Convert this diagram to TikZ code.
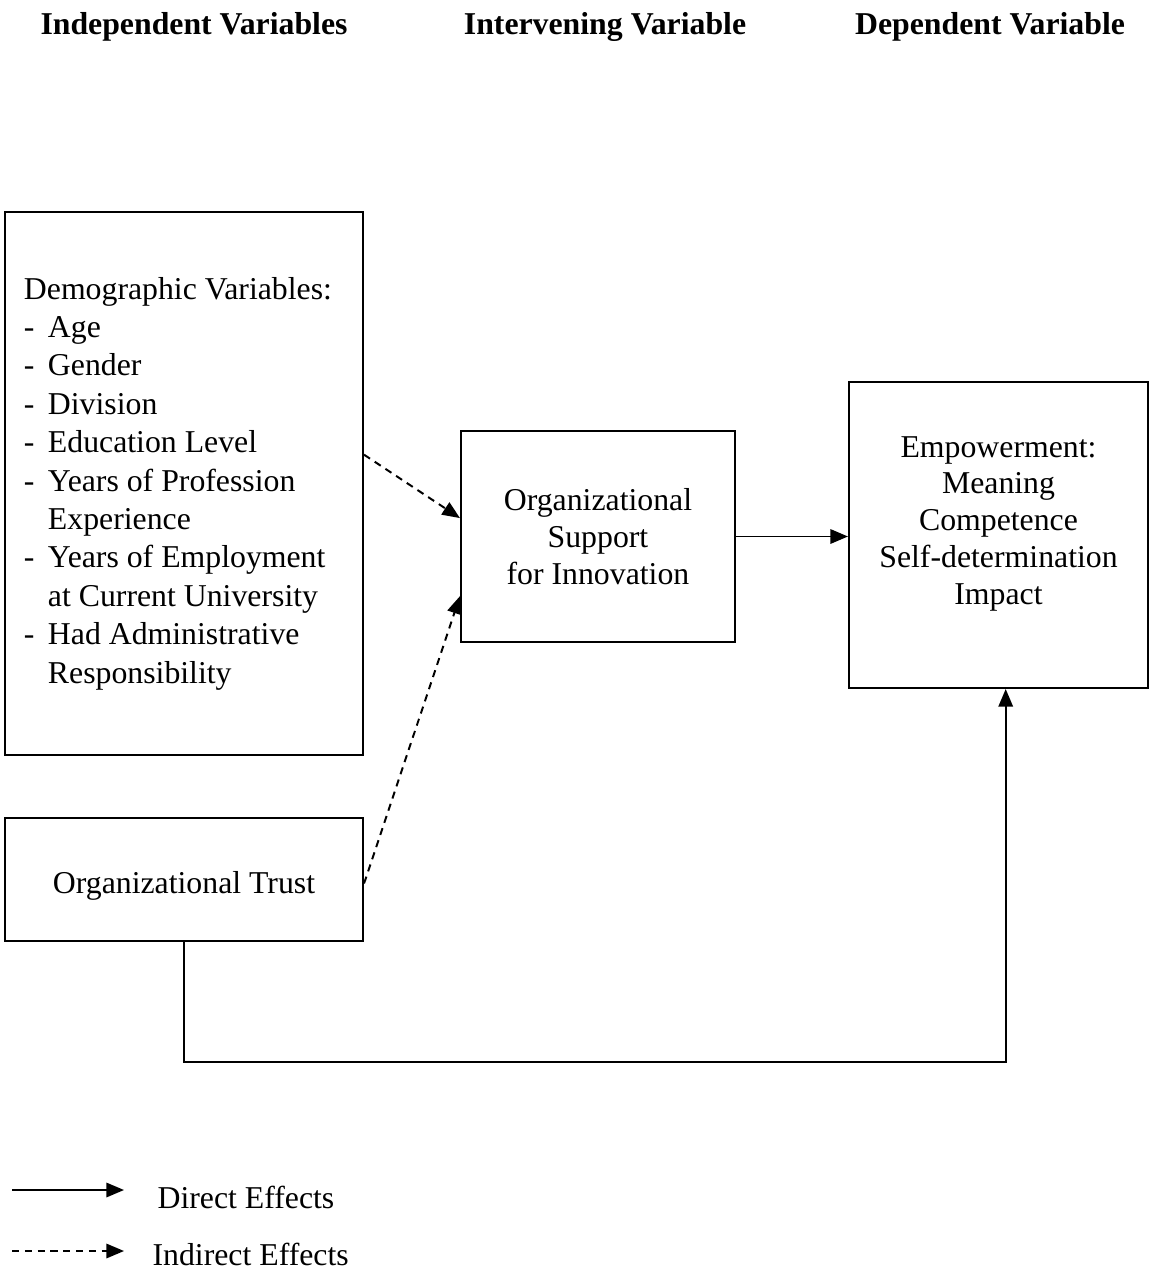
\documentclass[tikz,border=0pt]{standalone}
\usepackage{fontspec}
\setmainfont{Liberation Serif}
\usetikzlibrary{arrows.meta}

\newcommand{\itm}[1]{\makebox[0.3cm][l]{-}#1}
\newcommand{\cnt}[1]{\hspace*{0.3cm}#1}

\begin{document}
\begin{tikzpicture}[
  x=0.0125cm, y=-0.0125cm,
  font=\fontsize{11.3}{13.1}\selectfont,
  head/.style={font=\fontsize{11.3}{13.1}\selectfont\bfseries},
  box/.style={draw, line width=.7pt, align=center, inner sep=0pt},
  txt/.style={align=center, inner sep=0pt},
  listbox/.style={box, align=flush left, inner xsep=0.2375cm, text width=4cm,
                  minimum height=6.7875cm, font=\fontsize{11.3}{13.65}\selectfont},
  flow/.style={-{Triangle[length=0.22cm,width=0.18cm]}, line width=.7pt},
  direct/.style={flow},
  indirect/.style={flow, dash pattern=on 0.09cm off 0.07cm}
]
  \useasboundingbox (0,0) rectangle (1152,1279);

  % column headings
  \node[head] (hindep) at (194,27) {Independent Variables};
  \node[head] (hinterv) at (605,27) {Intervening Variable};
  \node[head] (hdep) at (990,27) {Dependent Variable};

  % boxes
  \node[listbox] (demo) at (184,483.5) {Demographic Variables:\\
    \itm{Age}\\
    \itm{Gender}\\
    \itm{Division}\\
    \itm{Education Level}\\
    \itm{Years of Profession}\\
    \cnt{Experience}\\
    \itm{Years of Employment}\\
    \cnt{at Current University}\\
    \itm{Had Administrative}\\
    \cnt{Responsibility}};
  \node[box, minimum width=4.475cm, minimum height=1.5375cm] (trust) at (184,879.5) {};
  \node[txt] (trusttxt) at ([yshift=-0.08cm]trust.center) {Organizational Trust};
  \node[box, minimum width=3.425cm, minimum height=2.6375cm] (supp) at (598,536.5)
    {Organizational\\Support\\for Innovation};
  \node[box, minimum width=3.7375cm, minimum height=3.825cm] (emp) at (998.5,535) {};
  \node[txt] (emptxt) at ([yshift=0.14cm]emp.center)
    {Empowerment:\\Meaning\\Competence\\Self-determination\\Impact};

  % effects
  \draw[indirect] ([yshift=0.36cm]demo.east) -- ([yshift=0.23cm]supp.west);
  \draw[indirect] ([yshift=-0.05cm]trust.east) -- ([yshift=-0.745cm]supp.west);
  \draw[direct] (supp.east) -- (supp.east -| emp.west);
  \draw[direct] (trust.south) -- ++(0,120) -| ([xshift=0.09cm]emp.south);

  % legend
  \coordinate (ds) at (12,1190);
  \coordinate (de) at (124,1190);
  \coordinate (is) at (12,1251);
  \coordinate (ie) at (124,1251);
  \draw[direct] (ds) -- (de);
  \draw[indirect] (is) -- (ie);
  \node[anchor=west, inner sep=0pt] (ldir) at (157,1197) {Direct Effects};
  \node[anchor=west, inner sep=0pt] (lind) at (152,1254) {Indirect Effects};
\end{tikzpicture}
\end{document}
